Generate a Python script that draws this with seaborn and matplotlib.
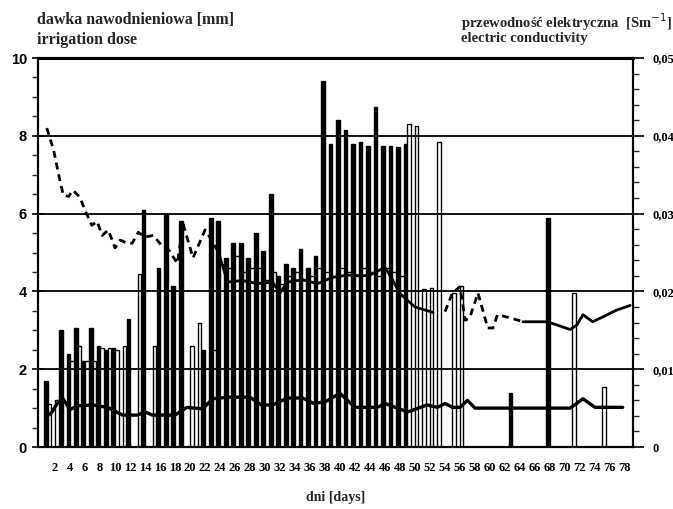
import matplotlib
matplotlib.use("Agg")
import pandas as pd
import matplotlib.pyplot as plt
import seaborn as sns
from matplotlib.ticker import MultipleLocator, FuncFormatter

# irrigation dose [mm], dark bars
dark_days = [1, 3, 4, 5, 6, 7, 8, 9, 10, 12, 14, 16, 17, 18, 19, 22, 23, 24, 25, 26,
             27, 28, 29, 30, 31, 32, 33, 34, 35, 36, 37, 38, 39, 40, 41, 42, 43, 44,
             45, 46, 47, 48, 49, 63, 68]
dark_dose = [1.7, 3.0, 2.4, 3.05, 2.2, 3.05, 2.6, 2.5, 2.55, 3.3, 6.1, 4.6, 6.0, 4.15,
             5.8, 2.5, 5.9, 5.8, 4.85, 5.25, 5.25, 4.85, 5.5, 5.05, 6.5, 4.4, 4.7, 4.6,
             5.1, 4.6, 4.9, 9.4, 7.8, 8.4, 8.15, 7.8, 7.85, 7.75, 8.75, 7.75, 7.75, 7.7,
             7.8, 1.4, 5.9]

# irrigation dose [mm], light (hollow) bars
light_days = [1, 2, 4, 5, 6, 7, 8, 9, 10, 11, 13, 15, 20, 21, 23, 24, 25, 26, 27, 28,
              29, 30, 31, 32, 33, 34, 35, 36, 37, 38, 39, 40, 41, 42, 43, 44, 45, 46,
              47, 48, 49, 50, 51, 52, 53, 55, 56, 71, 75]
light_dose = [1.1, 1.2, 2.2, 2.6, 2.2, 2.2, 2.55, 2.55, 2.5, 2.6, 4.45, 2.6, 2.6, 3.2,
              2.5, 4.7, 4.6, 4.9, 4.5, 4.6, 4.6, 4.3, 4.5, 4.2, 4.4, 4.5, 4.3, 4.4, 4.6,
              4.5, 4.4, 4.6, 4.5, 4.4, 4.6, 4.5, 4.4, 4.6, 4.5, 4.4, 8.3, 8.25, 4.05, 4.1,
              7.85, 3.95, 4.15, 3.95, 1.55]

# electric conductivity [S/m], upper curve
ec_upper_days = [0.9, 1.8, 2.7, 3.1, 3.8, 4.4, 5.3, 6.2, 6.9, 7.6, 8.3, 9.1, 10.0, 10.7,
                 11.6, 12.3, 13.1, 14.0, 15.1, 16.4, 17.2, 18.3, 19.1, 20.4, 22.0, 22.9,
                 23.8, 25.0, 27.0, 29.0, 31.0, 32.0, 33.0, 35.0, 37.0, 39.0, 41.0, 43.0,
                 44.0, 46.0, 47.0, 48.0, 50.0, 52.4, 54.0, 55.0, 56.0, 56.7, 57.3, 58.4,
                 59.7, 60.4, 61.0, 62.7, 64.4, 67.6, 68.9, 70.7, 71.6, 72.4, 73.7, 75.0,
                 76.9, 78.7]
ec_upper = [0.0410, 0.0382, 0.0340, 0.0324, 0.0322, 0.0330, 0.0321, 0.0300, 0.0285,
            0.0290, 0.0272, 0.0279, 0.0256, 0.0266, 0.0262, 0.0262, 0.0276, 0.0270,
            0.0272, 0.0257, 0.0253, 0.0236, 0.0286, 0.0243, 0.0279, 0.0266, 0.0250,
            0.0212, 0.0214, 0.0210, 0.0212, 0.0198, 0.0212, 0.0215, 0.0210, 0.0218,
            0.0221, 0.0220, 0.0221, 0.0231, 0.0215, 0.0197, 0.0180, 0.0173, 0.0174,
            0.0198, 0.0206, 0.0163, 0.0166, 0.0198, 0.0153, 0.0153, 0.0170, 0.0166,
            0.0161, 0.0161, 0.0157, 0.0151, 0.0157, 0.0170, 0.0161, 0.0167, 0.0176,
            0.0182]

# electric conductivity [S/m], lower curve
ec_lower_days = [0.9, 1.6, 2.3, 3.0, 4.0, 5.0, 7.0, 9.0, 11.0, 13.0, 14.0, 15.0, 18.0,
                 19.6, 21.7, 23.0, 25.0, 28.0, 29.5, 31.0, 33.0, 35.0, 36.5, 38.0, 40.0,
                 42.0, 45.0, 46.0, 49.0, 51.6, 53.0, 54.0, 55.0, 56.0, 57.0, 58.0, 70.7,
                 72.4, 74.0, 77.7]
ec_lower = [0.0039, 0.0045, 0.0056, 0.0063, 0.0048, 0.0053, 0.0054, 0.0051, 0.0041,
            0.0041, 0.0045, 0.0041, 0.0041, 0.0051, 0.0049, 0.0062, 0.0064, 0.0064,
            0.0054, 0.0054, 0.0063, 0.0063, 0.0056, 0.0058, 0.0069, 0.0051, 0.0051,
            0.0056, 0.0045, 0.0054, 0.0051, 0.0056, 0.0051, 0.0051, 0.0060, 0.0050,
            0.0050, 0.0062, 0.0051, 0.0051]

sns.set_theme(style="white")
plt.rcParams["font.family"] = ["Liberation Serif", "DejaVu Serif"]

fig = plt.figure(figsize=(6.73, 5.09), dpi=100)
ax = fig.add_axes([0.0565, 0.1218, 0.884, 0.7642])

bars = pd.concat([
    pd.DataFrame({"day": dark_days, "dose": dark_dose, "series": "dark"}),
    pd.DataFrame({"day": light_days, "dose": light_dose, "series": "light"}),
])
sns.barplot(data=bars, x="day", y="dose", hue="series", hue_order=["dark", "light"],
            palette={"dark": "black", "light": "white"}, native_scale=True, dodge=True,
            width=0.94, errorbar=None, edgecolor="black", linewidth=1.0, legend=False, ax=ax)

for g in [2, 4, 6, 8]:
    ax.axhline(g, color="black", lw=1.3, zorder=3)

ax.set_xlim(-0.27, 79.07)
ax.set_ylim(0, 10)
ax.set_xlabel("dni [days]", fontsize=10, fontweight="bold", labelpad=12)
ax.set_ylabel("")
ax.xaxis.set_major_locator(MultipleLocator(2))
ax.xaxis.set_major_formatter(FuncFormatter(lambda v, p: "" if v < 1 else f"{v:.0f}"))
ax.yaxis.set_major_locator(MultipleLocator(2))
ax.yaxis.set_minor_locator(MultipleLocator(0.5))
ax.tick_params(axis="x", direction="out", length=6, width=1.2, labelsize=9, pad=5, colors="black")
ax.tick_params(axis="y", which="major", direction="inout", length=9, width=1.2, labelsize=10.5, colors="black")
ax.tick_params(axis="y", which="minor", direction="out", length=4, width=1.0, left=True)
for lab in ax.get_xticklabels():
    lab.set_fontweight("bold")
for lab in ax.get_yticklabels():
    lab.set_fontweight("bold")
    lab.set_family("Liberation Sans")
for s in ax.spines.values():
    s.set_color("black")
    s.set_linewidth(1.5)
ax.spines["top"].set_linewidth(2.2)

ax2 = ax.twinx()
up = pd.DataFrame({"day": ec_upper_days, "ec": ec_upper})
segments = [(0, 23.8, (0, (2.5, 1.8))), (23.8, 53.0, "-"), (53.0, 64.4, (0, (2.5, 1.8))), (64.4, 80, "-")]
for lo, hi, ls in segments:
    part = up[(up["day"] >= lo) & (up["day"] <= hi)]
    sns.lineplot(data=part, x="day", y="ec", color="black", lw=2.0, linestyle=ls, ax=ax2)
low = pd.DataFrame({"day": ec_lower_days, "ec": ec_lower})
sns.lineplot(data=low, x="day", y="ec", color="black", lw=2.4, ax=ax2)

ax2.set_ylim(0, 0.05)
ax2.set_xlim(-0.27, 79.07)
ax2.set_ylabel("")
ax2.yaxis.set_major_locator(MultipleLocator(0.01))
ax2.yaxis.set_minor_locator(MultipleLocator(0.002))
ax2.yaxis.set_major_formatter(FuncFormatter(lambda v, p: "0" if v < 1e-9 else f"{v:.2f}".replace(".", ",")))
ax2.tick_params(axis="y", which="major", direction="out", length=8, width=1.2, labelsize=9, colors="black", pad=6)
ax2.tick_params(axis="y", which="minor", direction="out", length=4, width=1.0, right=True)
for lab in ax2.get_yticklabels():
    lab.set_fontweight("bold")
for s in ax2.spines.values():
    s.set_linewidth(1.5)
    s.set_color("black")

fig.text(0.055, 0.977, "dawka nawodnieniowa [mm]", fontsize=11.5, fontweight="bold", va="top")
fig.text(0.055, 0.937, "irrigation dose", fontsize=11.5, fontweight="bold", va="top")
fig.text(0.685, 0.977, "przewodność elektryczna  [Sm$^{-1}$]", fontsize=10.5, fontweight="bold", va="top")
fig.text(0.685, 0.937, "electric conductivity", fontsize=10.5, fontweight="bold", va="top")

fig.savefig("out.png", dpi=100)
